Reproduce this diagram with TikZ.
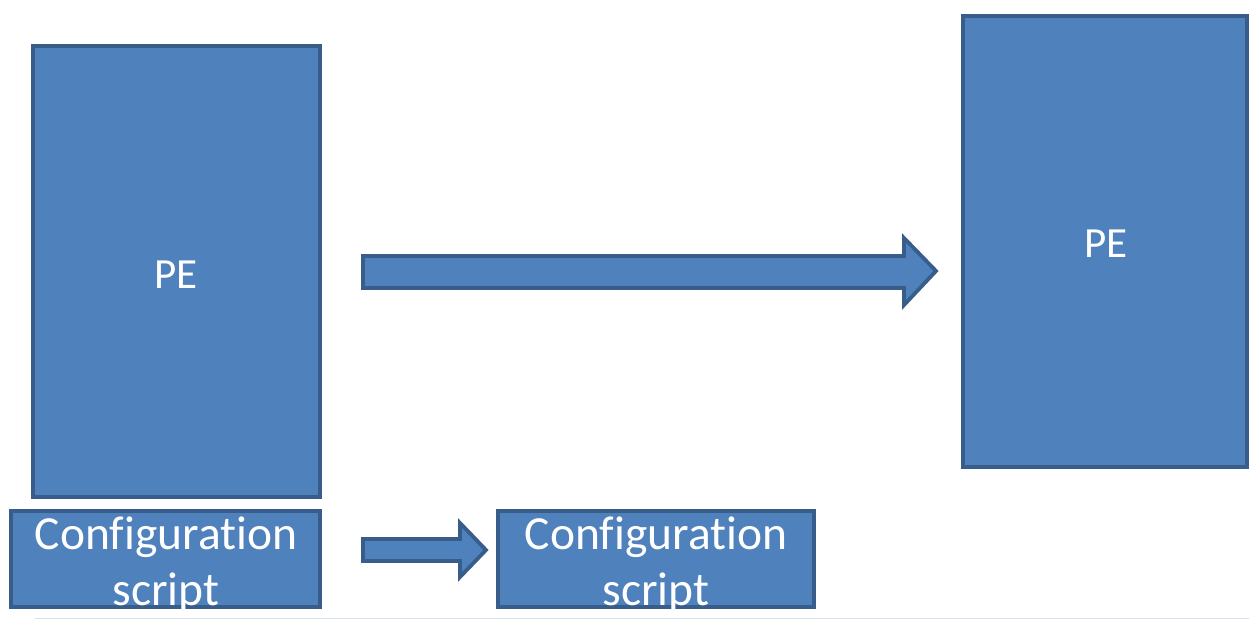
\documentclass[tikz,border=0pt]{standalone}
\usepackage{fontspec}
\setmainfont[Ligatures=NoCommon]{Carlito}
\definecolor{boxfill}{HTML}{4F81BD}
\definecolor{boxline}{HTML}{385D8A}
\definecolor{faint}{HTML}{D5E1F0}
\begin{document}
\begin{tikzpicture}[x=1pt,y=-1pt,
  box/.style={draw=boxline,fill=boxfill,line width=3.8pt,inner sep=0pt},
  blockarrow/.style={draw=boxline,fill=boxfill,line width=3.8pt,line join=miter},
  lbl/.style={text=white,inner sep=0pt,anchor=base}]
\useasboundingbox (0,0) rectangle (1249,620);
\draw[faint,line width=1.5pt] (35,618.5) -- (1249,618.5);
% PE boxes
\node[box,minimum width=287pt,minimum height=451pt] (pe1) at (176.5,271.5) {};
\node[box,minimum width=284pt,minimum height=451pt] (pe2) at (1105,241.5) {};
\node[lbl,font=\fontsize{43}{50}\selectfont] (pe1t) at (176,288) {PE};
\node[lbl,font=\fontsize{43}{50}\selectfont] (pe2t) at (1106,258) {PE};
% Configuration boxes
\node[box,minimum width=309pt,minimum height=96pt] (cs1) at (165.5,559) {};
\node[box,minimum width=316pt,minimum height=96pt] (cs2) at (656,559) {};
\node[lbl,font=\fontsize{47.5}{57}\selectfont] (cs1a) at (166,549) {Configuration};
\node[lbl,font=\fontsize{47.5}{57}\selectfont] (cs1b) at (166,605) {script};
\node[lbl,font=\fontsize{47.5}{57}\selectfont] (cs2a) at (656,549) {Configuration};
\node[lbl,font=\fontsize{47.5}{57}\selectfont] (cs2b) at (656,605) {script};
% block arrows
\draw[blockarrow] (363,256) -- (904,256) -- (904,238) -- (936,271) -- (904,305) -- (904,288) -- (363,288) -- cycle;
\draw[blockarrow] (363,539) -- (460,539) -- (460,523) -- (486,550) -- (460,577) -- (460,561) -- (363,561) -- cycle;
\end{tikzpicture}
\end{document}
